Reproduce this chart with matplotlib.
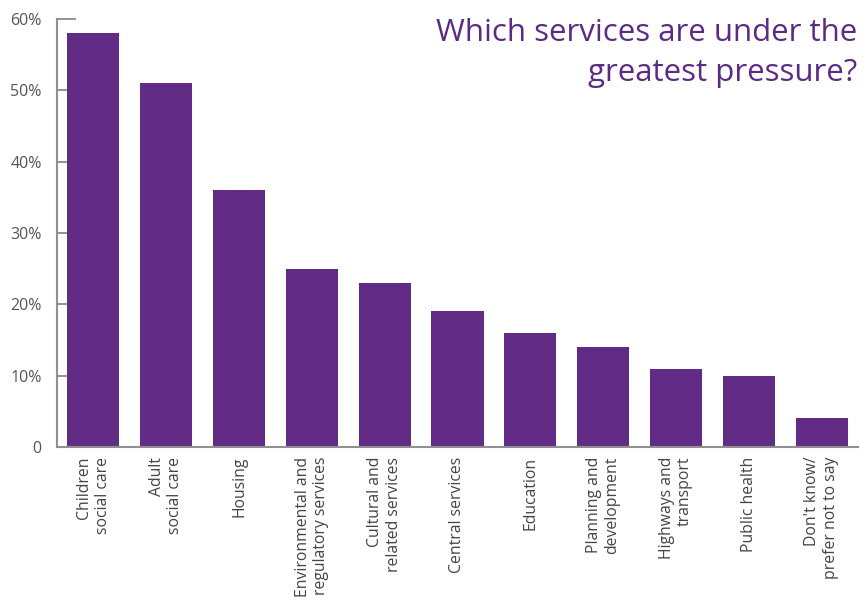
import matplotlib
matplotlib.use("Agg")
from matplotlib import pyplot as plt

services = ["Children\nsocial care", "Adult\nsocial care", "Housing",
            "Environmental and\nregulatory services", "Cultural and\nrelated services",
            "Central services", "Education", "Planning and\ndevelopment",
            "Highways and\ntransport", "Public health", "Don't know/\nprefer not to say"]
share = [58, 51, 36, 25, 23, 19, 16, 14, 11, 10, 4]
y_ticks = [0, 10, 20, 30, 40, 50, 60]
y_labels = ["0", "10%", "20%", "30%", "40%", "50%", "60%"]

purple = "#622c86"
plt.rcParams['font.family'] = ['Open Sans', 'DejaVu Sans']

fig = plt.figure(figsize=(8.64, 6.03), dpi=100)
ax = fig.add_axes([0.066, 0.2587, 0.927, 0.7098])

ax.bar(range(len(share)), share, width=0.715, color=purple, zorder=2)
ax.set_xlim(-0.5, 10.5)
ax.set_ylim(0, 60)

ax.set_yticks(y_ticks)
ax.set_yticklabels(y_labels, fontsize=11.5, color="#555555")
ax.tick_params(axis='y', direction='in', length=14, width=1.2, color="#808080", pad=11)

ax.set_xticks(range(len(services)))
ax.set_xticklabels(services, rotation=90, fontsize=11.3, color="#444444",
                   ha='center', va='top', multialignment='right')
ax.tick_params(axis='x', length=0, pad=7)

for side in ['top', 'right']:
    ax.spines[side].set_visible(False)
for side in ['left', 'bottom']:
    ax.spines[side].set_color("#909090")
    ax.spines[side].set_linewidth(1.5)

fig.text(0.992, 0.970, "Which services are under the\ngreatest pressure?",
         ha='right', va='top', fontsize=22.5, color="#5b2a86", linespacing=1.45,
         multialignment='right')

fig.savefig("out.png", dpi=100)
